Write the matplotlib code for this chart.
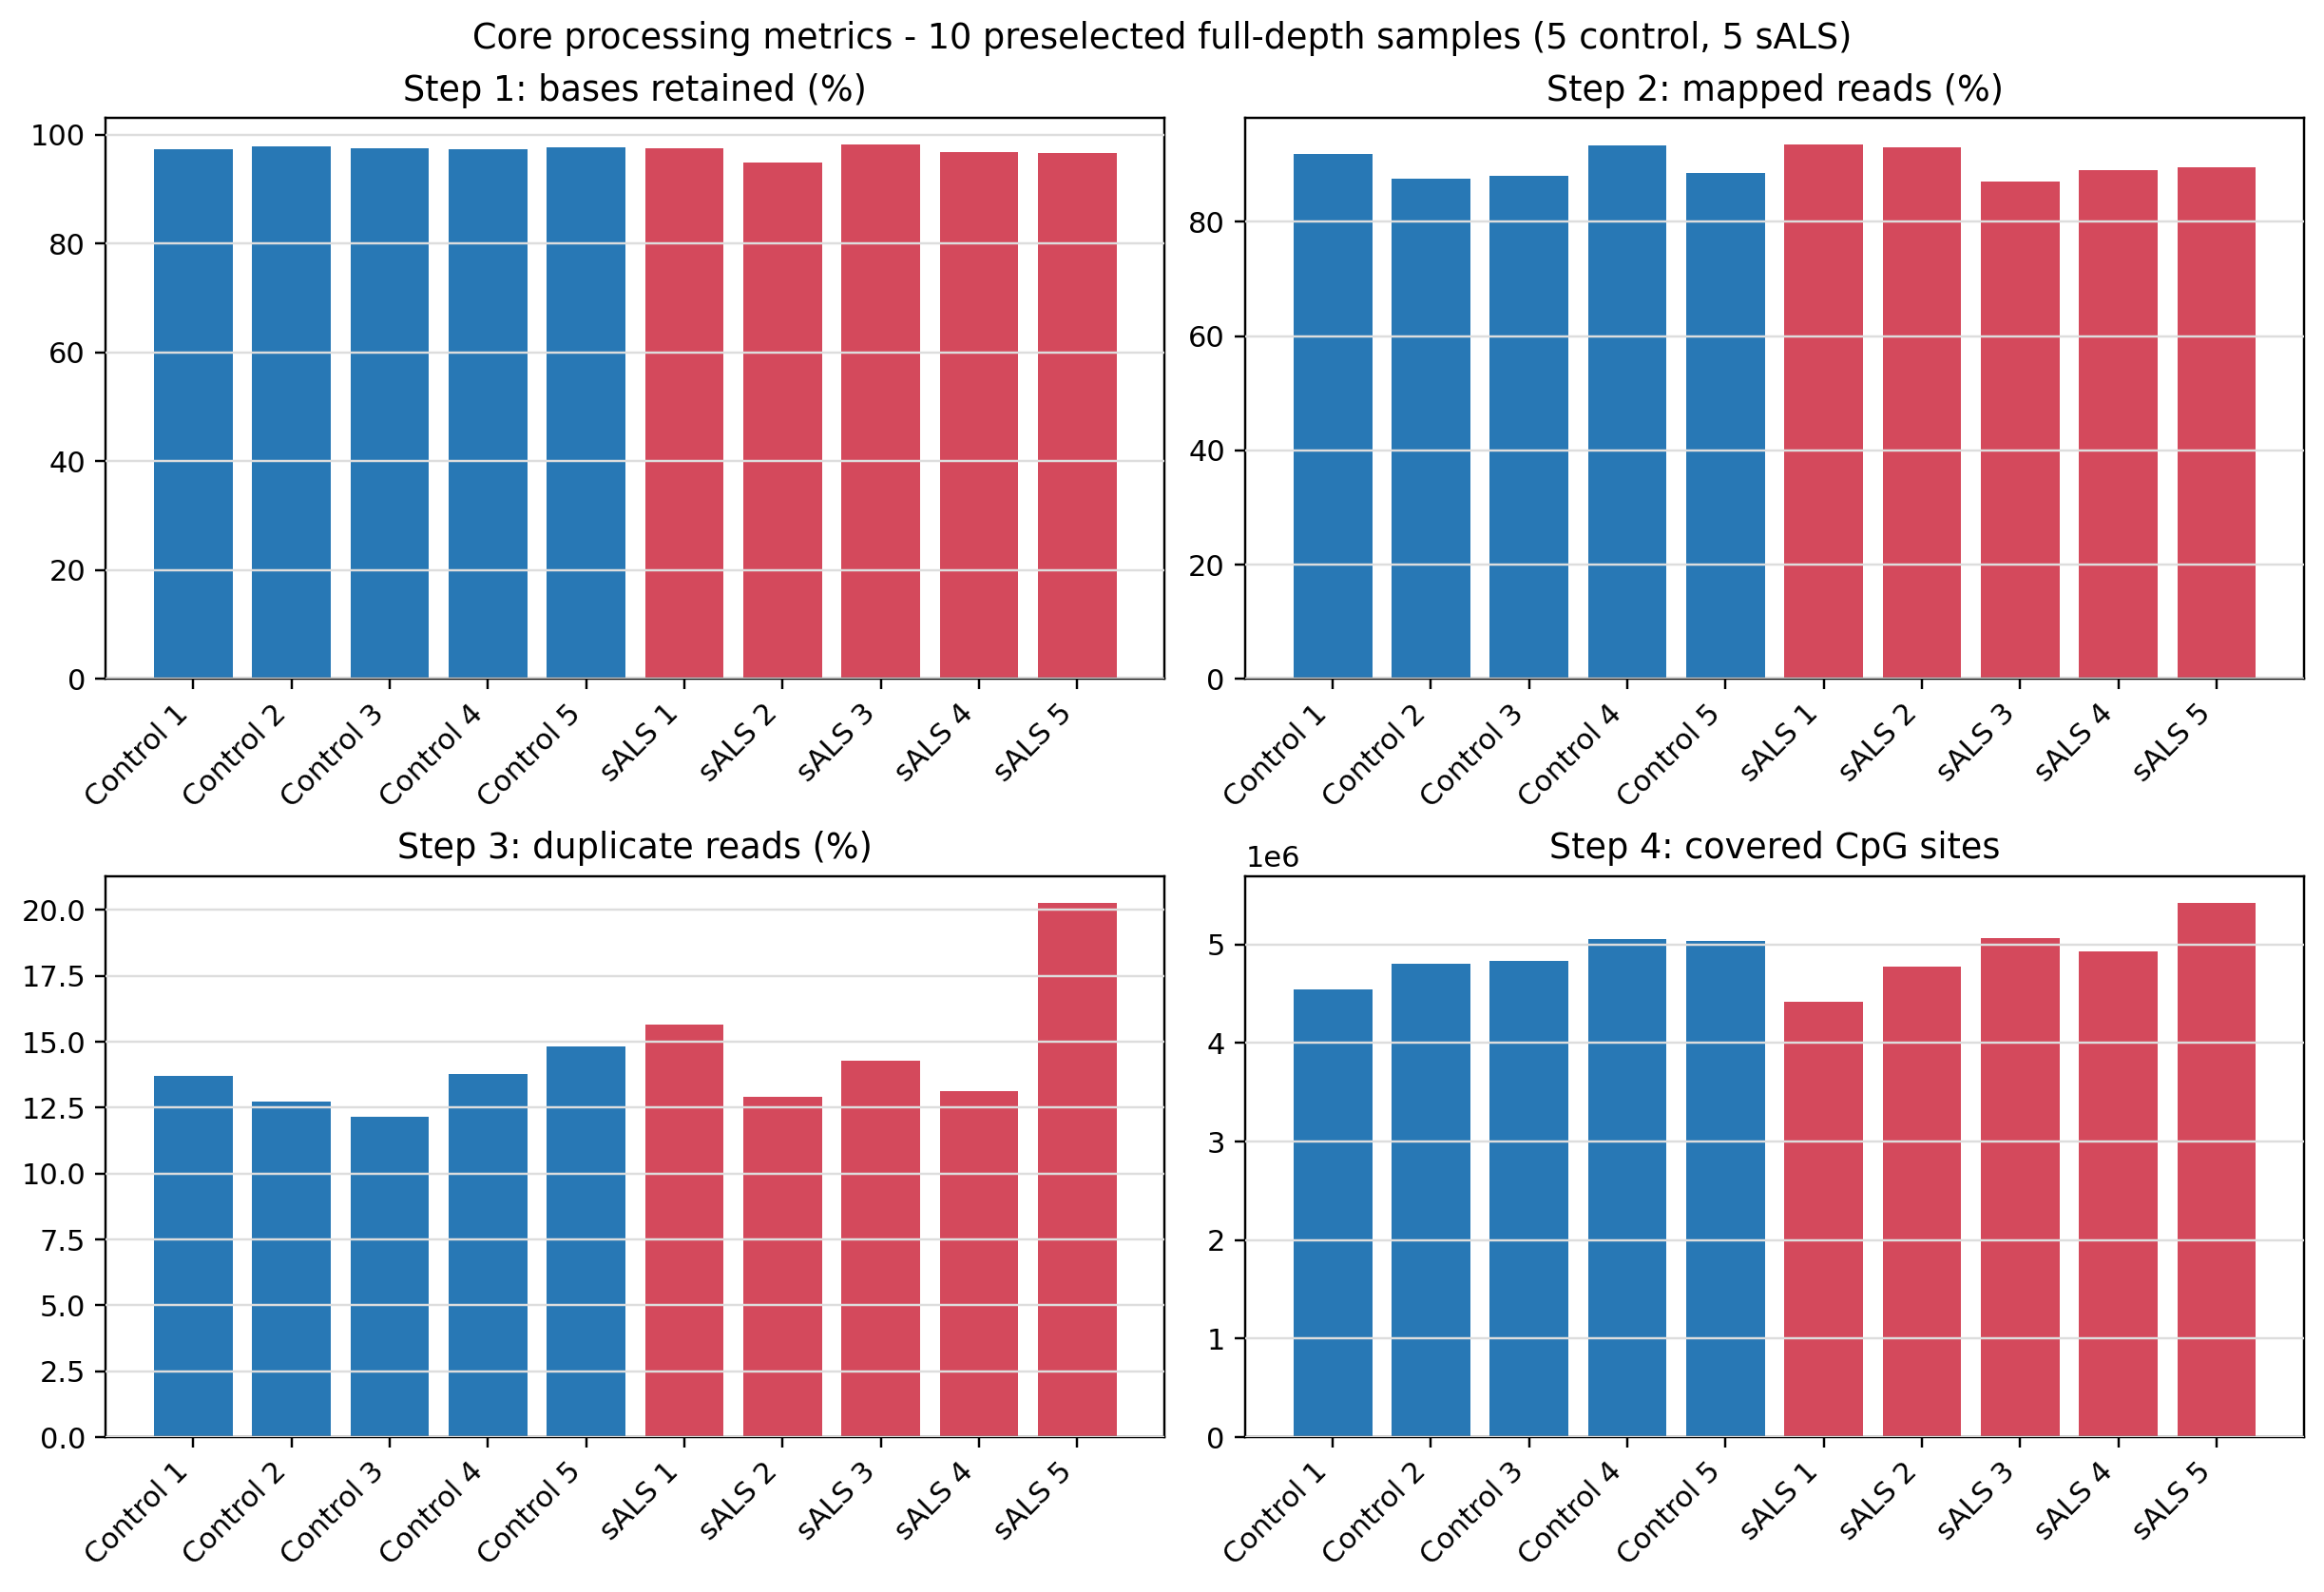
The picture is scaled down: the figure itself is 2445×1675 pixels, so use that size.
import matplotlib
matplotlib.use("Agg")
from matplotlib import pyplot as plt

samples = ['Control 1', 'Control 2', 'Control 3', 'Control 4', 'Control 5',
           'sALS 1', 'sALS 2', 'sALS 3', 'sALS 4', 'sALS 5']
groups = ['control'] * 5 + ['sals'] * 5

bases_retained = [97.3, 97.8, 97.5, 97.3, 97.7, 97.5, 94.9, 98.2, 96.8, 96.6]
mapped_reads = [91.8, 87.5, 88.1, 93.3, 88.6, 93.5, 93.0, 87.1, 89.0, 89.5]
duplicate_reads = [13.69, 12.74, 12.16, 13.76, 14.81, 15.64, 12.92, 14.30, 13.14, 20.28]
cpg_sites = [4.547e6, 4.807e6, 4.836e6, 5.058e6, 5.039e6, 4.421e6, 4.778e6, 5.068e6, 4.932e6, 5.424e6]

titles = ['Step 1: bases retained (%)', 'Step 2: mapped reads (%)',
          'Step 3: duplicate reads (%)', 'Step 4: covered CpG sites']

group_colors = {'control': '#2878B5', 'sals': '#D4495C'}
colors = [group_colors[g] for g in groups]

fig, axes = plt.subplots(2, 2, figsize=(2445 / 220, 1675 / 220), dpi=220)

for ax, values, title in zip(axes.flat, [bases_retained, mapped_reads, duplicate_reads, cpg_sites], titles):
    ax.bar(samples, values, color=colors)
    ax.set_title(title, fontsize=12)
    ax.grid(axis='y', color='#dddddd', linewidth=0.8)
    ax.set_axisbelow(False)
    ax.tick_params(axis='x', labelrotation=45)
    for lbl in ax.get_xticklabels():
        lbl.set_ha('right')

fig.suptitle('Core processing metrics - 10 preselected full-depth samples (5 control, 5 sALS)',
             fontsize=12, y=0.976, va='center')
fig.subplots_adjust(left=0.0456, right=0.9914, top=0.926, bottom=0.0973, wspace=0.0763, hspace=0.351)
plt.savefig('out.png', dpi=220)
